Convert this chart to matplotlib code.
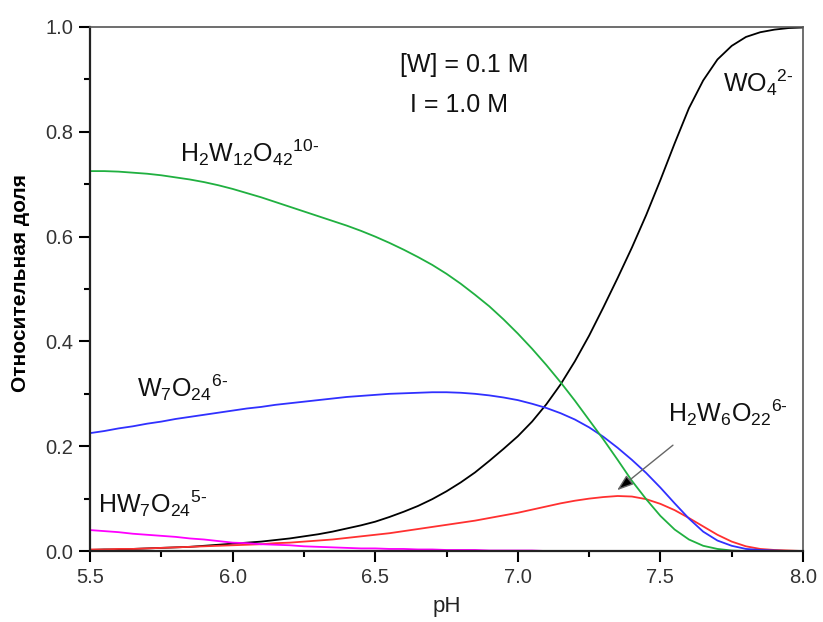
import matplotlib
matplotlib.use("Agg")
import matplotlib.pyplot as plt
from matplotlib.ticker import FormatStrFormatter

plt.rcParams["font.family"] = ["Liberation Sans", "DejaVu Sans"]
plt.rcParams["mathtext.fontset"] = "custom"
plt.rcParams["mathtext.rm"] = "Liberation Sans"
plt.rcParams["mathtext.it"] = "Liberation Sans"

# species distribution of tungstate vs pH, [W] = 0.1 M, I = 1.0 M
ph = [5.50, 5.55, 5.60, 5.65, 5.70, 5.75, 5.80, 5.85, 5.90, 5.95,
      6.00, 6.05, 6.10, 6.15, 6.20, 6.25, 6.30, 6.35, 6.40, 6.45,
      6.50, 6.55, 6.60, 6.65, 6.70, 6.75, 6.80, 6.85, 6.90, 6.95,
      7.00, 7.05, 7.10, 7.15, 7.20, 7.25, 7.30, 7.35, 7.40, 7.45,
      7.50, 7.55, 7.60, 7.65, 7.70, 7.75, 7.80, 7.85, 7.90, 7.95, 8.00]

h2w12 = [0.725, 0.725, 0.724, 0.722, 0.720, 0.717, 0.713, 0.709, 0.704, 0.698,
         0.691, 0.683, 0.675, 0.666, 0.657, 0.648, 0.639, 0.630, 0.621, 0.611,
         0.600, 0.588, 0.575, 0.561, 0.546, 0.529, 0.510, 0.489, 0.467, 0.442,
         0.415, 0.386, 0.355, 0.322, 0.287, 0.250, 0.213, 0.174, 0.134, 0.099,
         0.067, 0.041, 0.022, 0.010, 0.004, 0.001, 0.0, 0.0, 0.0, 0.0, 0.0]

w7 = [0.225, 0.229, 0.234, 0.238, 0.243, 0.247, 0.252, 0.256, 0.260, 0.264,
      0.268, 0.272, 0.275, 0.279, 0.282, 0.285, 0.288, 0.291, 0.294, 0.296,
      0.298, 0.300, 0.301, 0.302, 0.303, 0.303, 0.302, 0.300, 0.297, 0.293,
      0.288, 0.281, 0.273, 0.263, 0.251, 0.236, 0.218, 0.197, 0.174, 0.149,
      0.121, 0.091, 0.062, 0.037, 0.020, 0.010, 0.004, 0.002, 0.001, 0.0, 0.0]

h2w6 = [0.003, 0.003, 0.004, 0.004, 0.005, 0.006, 0.007, 0.008, 0.009, 0.010,
        0.011, 0.012, 0.013, 0.015, 0.016, 0.018, 0.020, 0.022, 0.025, 0.028,
        0.031, 0.034, 0.038, 0.042, 0.046, 0.050, 0.054, 0.058, 0.063, 0.068,
        0.073, 0.079, 0.085, 0.091, 0.096, 0.100, 0.103, 0.105, 0.104, 0.099,
        0.090, 0.078, 0.063, 0.047, 0.031, 0.018, 0.009, 0.004, 0.002, 0.001, 0.0]

wo4 = [0.002, 0.003, 0.003, 0.004, 0.005, 0.006, 0.007, 0.008, 0.010, 0.012,
       0.014, 0.016, 0.018, 0.021, 0.024, 0.028, 0.032, 0.037, 0.043, 0.049,
       0.056, 0.065, 0.075, 0.086, 0.099, 0.114, 0.131, 0.150, 0.172, 0.195,
       0.219, 0.247, 0.280, 0.318, 0.362, 0.411, 0.465, 0.521, 0.579, 0.641,
       0.708, 0.778, 0.845, 0.898, 0.938, 0.964, 0.981, 0.990, 0.995, 0.998, 0.999]

hw7 = [0.040, 0.038, 0.036, 0.033, 0.031, 0.029, 0.027, 0.024, 0.022, 0.019,
       0.016, 0.015, 0.013, 0.012, 0.011, 0.009, 0.008, 0.007, 0.006, 0.005,
       0.005, 0.004, 0.004, 0.003, 0.003, 0.002, 0.002, 0.002, 0.001, 0.001,
       0.001, 0.001, 0.0, 0.0, 0.0, 0.0, 0.0, 0.0, 0.0, 0.0,
       0.0, 0.0, 0.0, 0.0, 0.0, 0.0, 0.0, 0.0, 0.0, 0.0, 0.0]

fig = plt.figure(figsize=(8.23, 6.22), dpi=100)
ax = fig.add_axes([0.1094, 0.1141, 0.8663, 0.8425])

lw = 1.3
ax.plot(ph, wo4, color="black", lw=lw)
ax.plot(ph, h2w6, color="#ff3030", lw=lw)
ax.plot(ph, w7, color="#3030ff", lw=lw)
ax.plot(ph, hw7, color="#ff00ff", lw=lw)
ax.plot(ph, h2w12, color="#20b040", lw=lw)

ax.set_xlim(5.5, 8.0)
ax.set_ylim(0.0, 1.0)
ax.set_xticks([5.5, 6.0, 6.5, 7.0, 7.5, 8.0])
ax.set_xticks([5.75, 6.25, 6.75, 7.25, 7.75], minor=True)
ax.set_yticks([0.0, 0.2, 0.4, 0.6, 0.8, 1.0])
ax.set_yticks([0.1, 0.3, 0.5, 0.7, 0.9], minor=True)
ax.xaxis.set_major_formatter(FormatStrFormatter("%.1f"))
ax.yaxis.set_major_formatter(FormatStrFormatter("%.1f"))

ax.tick_params(which="major", direction="out", length=8, width=1.5, labelsize=14.5,
               labelcolor="#333333", pad=4)
ax.tick_params(which="minor", direction="out", length=4, width=1.5)
ax.tick_params(top=False, right=False, which="both")

for side in ["left", "bottom"]:
    ax.spines[side].set_linewidth(1.6)
    ax.spines[side].set_color("#222222")
for side in ["top", "right"]:
    ax.spines[side].set_linewidth(1.2)
    ax.spines[side].set_color("#555555")

ax.set_xlabel("pH", fontsize=16, color="#222222")
ax.xaxis.set_label_coords(0.5, -0.085)
ax.set_ylabel("Относительная доля", fontsize=15, fontweight="bold")
ax.yaxis.set_label_coords(-0.084, 0.511)

# species labels (hyphen-style charge sign)
lab = dict(fontsize=18, color="#111111", va="baseline", ha="left")
ax.text(7.72, 0.876, r"WO$_4$$^{2\text{-}}$", **lab)
ax.text(5.816, 0.742, r"H$_2$W$_{12}$O$_{42}$$^{10\text{-}}$", **lab)
ax.text(5.665, 0.294, r"W$_7$O$_{24}$$^{6\text{-}}$", **lab)
ax.text(5.528, 0.0725, r"HW$_7$O$_{24}$$^{5\text{-}}$", **lab)
ax.text(7.527, 0.246, r"H$_2$W$_6$O$_{22}$$^{6\text{-}}$", **lab)

ax.text(6.811, 0.914, "[W] = 0.1 M", fontsize=18, ha="center", va="baseline", color="#111111")
ax.text(6.794, 0.838, "I = 1.0 M", fontsize=18, ha="center", va="baseline", color="#111111")

ax.annotate("", xy=(7.348, 0.116), xytext=(7.544, 0.202),
            arrowprops=dict(arrowstyle="-|>,head_length=1.0,head_width=0.35",
                            edgecolor="#666666", facecolor="black", lw=1.0,
                            shrinkA=0, shrinkB=0))

fig.savefig("out.png", dpi=100)
